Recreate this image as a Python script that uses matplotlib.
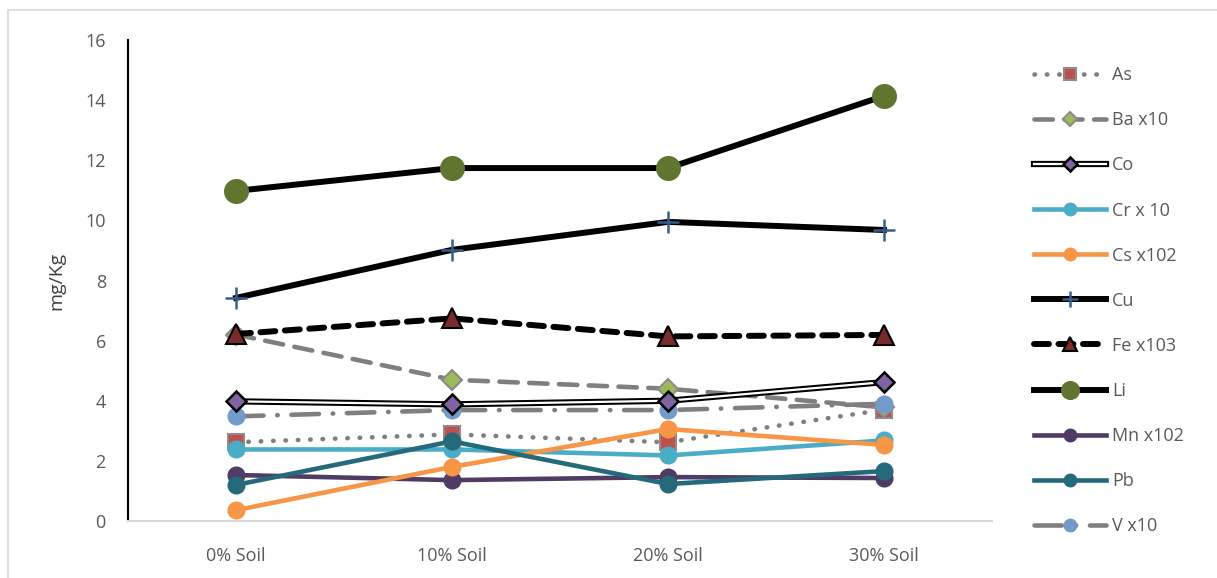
import numpy as np
import matplotlib.pyplot as plt
from matplotlib.patches import Rectangle
from matplotlib.legend_handler import HandlerTuple

plt.rcParams['font.family'] = ['Open Sans', 'DejaVu Sans']

# soil additions and element concentrations (mg/Kg, some scaled)
soil = ['0% Soil', '10% Soil', '20% Soil', '30% Soil']
As = [2.62, 2.88, 2.62, 3.70]
Ba = [6.20, 4.70, 4.40, 3.78]
Co = [3.98, 3.88, 4.00, 4.62]
Cr = [2.38, 2.38, 2.18, 2.68]
Cs = [0.36, 1.80, 3.06, 2.53]
Cu = [7.42, 9.02, 9.95, 9.68]
Fe = [6.22, 6.74, 6.14, 6.19]
Li = [10.98, 11.74, 11.74, 14.14]
Mn = [1.53, 1.36, 1.46, 1.43]
Pb = [1.20, 2.65, 1.23, 1.66]
V = [3.48, 3.69, 3.69, 3.90]

x = np.arange(len(soil))

fig = plt.figure(figsize=(12.17, 5.78), dpi=100)
ax = fig.add_axes([128/1217, 1-521/578, 864/1217, 481/578])

lw = 3.3
handles = []

h, = ax.plot(x, As, color='#7f7f7f', lw=lw, ls=(0, (0.1, 2.6)), dash_capstyle='round',
             marker='s', ms=11, mfc='#C0504D', mec='#8c8c8c', mew=1.5, zorder=3)
handles.append(h)
h, = ax.plot(x, Ba, color='#7f7f7f', lw=lw, ls=(0, (4, 2.5)), dash_capstyle='round',
             marker='D', ms=10, mfc='#9BBB59', mec='#8c8c8c', mew=1.5, zorder=3)
handles.append(h)
co_out, = ax.plot(x, Co, color='black', lw=4.5, zorder=4)
co_in, = ax.plot(x, Co, color='white', lw=1.6, marker='D', ms=10, mfc='#8064A2',
                 mec='black', mew=1.8, zorder=4)
handles.append((co_out, co_in))
h, = ax.plot(x, Cr, color='#4BACC6', lw=lw, marker='o', ms=12, mfc='#4BACC6', mec='#4BACC6', zorder=4)
handles.append(h)
h, = ax.plot(x, Cs, color='#F79646', lw=lw, marker='o', ms=12, mfc='#F79646', mec='#F79646', zorder=5)
handles.append(h)
h, = ax.plot(x, Cu, color='black', lw=4.3, marker='+', ms=16, mew=1.8, mec='#385D8A', zorder=4)
handles.append(h)
h, = ax.plot(x, Fe, color='black', lw=4.3, ls=(0, (2.5, 1.6)), dash_capstyle='round',
             marker='^', ms=14, mfc='#772C2A', mec='black', mew=1.5, zorder=4)
handles.append(h)
h, = ax.plot(x, Li, color='black', lw=4.3, marker='o', ms=17, mfc='#5F7530', mec='#5F7530', zorder=4)
handles.append(h)
h, = ax.plot(x, Mn, color='#4F3B63', lw=lw, marker='o', ms=12, mfc='#4F3B63', mec='#4F3B63', zorder=4)
handles.append(h)
h, = ax.plot(x, Pb, color='#256A7B', lw=lw, marker='o', ms=12, mfc='#256A7B', mec='#256A7B', zorder=5)
handles.append(h)
h, = ax.plot(x, V, color='#7f7f7f', lw=lw, ls=(0, (6, 3, 0.1, 3)), dash_capstyle='round',
             marker='o', ms=12, mfc='#729ACA', mec='#729ACA', zorder=3)
handles.append(h)

labels = ['As', 'Ba x10', 'Co', 'Cr x 10', 'Cs x102', 'Cu', 'Fe x103', 'Li', 'Mn x102', 'Pb', 'V x10']

ax.set_xlim(-0.5, 3.5)
ax.set_ylim(0, 16)
ax.set_yticks(np.arange(0, 17, 2))
ax.set_xticks(x)
ax.set_xticklabels(soil)
ax.tick_params(axis='both', length=0, labelsize=13, colors='#595959')
ax.tick_params(axis='y', pad=16)
ax.tick_params(axis='x', pad=19)
for s in ['top', 'right']:
    ax.spines[s].set_visible(False)
ax.spines['left'].set_color('black')
ax.spines['left'].set_linewidth(1.5)
ax.spines['bottom'].set_color('#d9d9d9')
ax.spines['bottom'].set_linewidth(1.5)
ax.set_ylabel('mg/Kg', fontsize=14, color='#404040', labelpad=14)

leg = fig.legend(handles, labels, loc='upper left', bbox_to_anchor=(1018/1217, 1-50/578),
                 frameon=False, fontsize=13, labelcolor='#595959', handlelength=4.0,
                 handletextpad=0.3, labelspacing=1.5, numpoints=1, markerscale=0.75,
                 handler_map={tuple: HandlerTuple(ndivide=1, pad=0)})

# thin border around the chart area
fig.patches.append(Rectangle((8/1217, -0.1), 1.2, 1-10/578+0.1, transform=fig.transFigure,
                             fill=False, ec='#d9d9d9', lw=1.2))

fig.savefig('out.png', dpi=100)
